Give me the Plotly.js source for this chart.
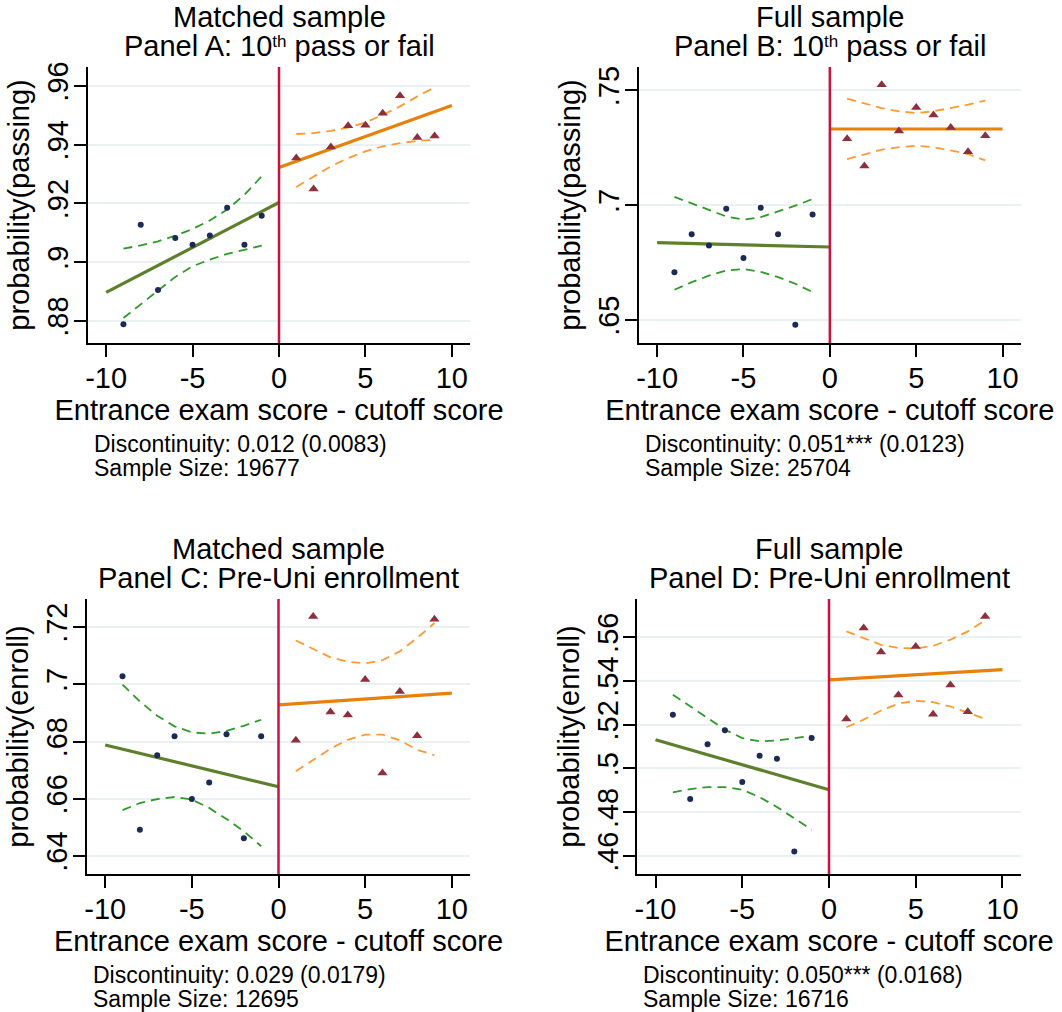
<!DOCTYPE html>
<html>
<head>
<meta charset="utf-8">
<script src="https://cdn.plot.ly/plotly-3.0.1.min.js"></script>
<style>html,body{margin:0;padding:0;background:#fff;}#chart{width:1062px;height:1012px;}</style>
</head>
<body>
<div id="chart"></div>
<script>
// ---- data ----
const xLeft = [-9, -8, -7, -6, -5, -4, -3, -2, -1];
const xRight = [1, 2, 3, 4, 5, 6, 7, 8, 9];
const fitXLeft = [-10, 0];
const fitXRight = [0, 10];
const xTickVals = [-10, -5, 0, 5, 10];
const xTickText = ['-10', '-5', '0', '5', '10'];

// Panel A: matched, 10th pass or fail
const aBinL = [0.8789, 0.9127, 0.8905, 0.9082, 0.9059, 0.9091, 0.9185, 0.9059, 0.9158];
const aBinR = [0.9354, 0.9249, 0.9392, 0.9464, 0.9466, 0.9507, 0.9566, 0.9424, 0.9429];
const aFitL = [0.8897, 0.9203];
const aFitR = [0.9322, 0.9533];
const aCiLoL = [0.8810, 0.8856, 0.8903, 0.8950, 0.8986, 0.9009, 0.9028, 0.9043, 0.9056];
const aCiHiL = [0.9046, 0.9057, 0.9071, 0.9090, 0.9113, 0.9142, 0.9179, 0.9229, 0.9292];
const aCiLoR = [0.9256, 0.9292, 0.9326, 0.9354, 0.9377, 0.9394, 0.9405, 0.9413, 0.9416];
const aCiHiR = [0.9436, 0.9439, 0.9447, 0.9458, 0.9475, 0.9501, 0.9530, 0.9564, 0.9595];
const aTicks = [0.88, 0.90, 0.92, 0.94, 0.96];
const aTickText = ['.88', '.9', '.92', '.94', '.96'];

// Panel B: full, 10th pass or fail
const bBinL = [0.6708, 0.6874, 0.6825, 0.6985, 0.6770, 0.6989, 0.6874, 0.6480, 0.6960];
const bBinR = [0.7290, 0.7171, 0.7525, 0.7323, 0.7426, 0.7393, 0.7339, 0.7233, 0.7303];
const bFitL = [0.6837, 0.6818];
const bFitR = [0.7332, 0.7332];
const bCiLoL = [0.6632, 0.6665, 0.6693, 0.6716, 0.6722, 0.6710, 0.6687, 0.6658, 0.6622];
const bCiHiL = [0.7036, 0.7009, 0.6980, 0.6951, 0.6937, 0.6948, 0.6973, 0.6998, 0.7027];
const bCiLoR = [0.7201, 0.7223, 0.7242, 0.7253, 0.7259, 0.7253, 0.7239, 0.7223, 0.7195];
const bCiHiR = [0.7464, 0.7445, 0.7423, 0.7409, 0.7401, 0.7409, 0.7423, 0.7438, 0.7456];
const bTicks = [0.65, 0.70, 0.75];
const bTickText = ['.65', '.7', '.75'];

// Panel C: matched, Pre-Uni enrollment
const cBinL = [0.7028, 0.6492, 0.6752, 0.6818, 0.6599, 0.6657, 0.6825, 0.6462, 0.6818];
const cBinR = [0.6804, 0.7237, 0.6903, 0.6893, 0.7017, 0.6690, 0.6975, 0.6820, 0.7227];
const cFitL = [0.6788, 0.6642];
const cFitR = [0.6928, 0.6969];
const cCiLoL = [0.6560, 0.6585, 0.6599, 0.6606, 0.6597, 0.6568, 0.6529, 0.6486, 0.6434];
const cCiHiL = [0.6999, 0.6940, 0.6890, 0.6853, 0.6832, 0.6827, 0.6837, 0.6855, 0.6876];
const cCiLoR = [0.6696, 0.6734, 0.6775, 0.6806, 0.6824, 0.6824, 0.6804, 0.6771, 0.6752];
const cCiHiR = [0.7153, 0.7123, 0.7094, 0.7079, 0.7073, 0.7084, 0.7115, 0.7162, 0.7214];
const cTicks = [0.64, 0.66, 0.68, 0.70, 0.72];
const cTickText = ['.64', '.66', '.68', '.7', '.72'];

// Panel D: full, Pre-Uni enrollment
const dBinL = [0.5245, 0.4860, 0.5111, 0.5174, 0.4938, 0.5058, 0.5044, 0.4621, 0.5139];
const dBinR = [0.5226, 0.5641, 0.5532, 0.5335, 0.5557, 0.5248, 0.5381, 0.5259, 0.5694];
const dFitL = [0.5131, 0.4903];
const dFitR = [0.5405, 0.5451];
const dCiLoL = [0.4891, 0.4906, 0.4915, 0.4915, 0.4903, 0.4869, 0.4824, 0.4774, 0.4720];
const dCiHiL = [0.5337, 0.5283, 0.5230, 0.5177, 0.5139, 0.5124, 0.5128, 0.5139, 0.5149];
const dCiLoR = [0.5188, 0.5223, 0.5265, 0.5296, 0.5309, 0.5303, 0.5283, 0.5256, 0.5227];
const dCiHiR = [0.5626, 0.5595, 0.5565, 0.5550, 0.5548, 0.5560, 0.5588, 0.5626, 0.5676];
const dTicks = [0.46, 0.48, 0.50, 0.52, 0.54, 0.56];
const dTickText = ['.46', '.48', '.5', '.52', '.54', '.56'];

const SUP = '<span style="font-size:17px;baseline-shift:9px">th</span>';
const titleTop = ['Matched sample', 'Full sample', 'Matched sample', 'Full sample'];
const titleSub = ['Panel A: 10' + SUP + ' pass or fail', 'Panel B: 10' + SUP + ' pass or fail',
                  'Panel C: Pre-Uni enrollment', 'Panel D: Pre-Uni enrollment'];
const yTitles = ['probability(passing)', 'probability(passing)', 'probability(enroll)', 'probability(enroll)'];
const xTitle = 'Entrance exam score - cutoff score';
const notesDisc = ['Discontinuity: 0.012 (0.0083)', 'Discontinuity: 0.051*** (0.0123)',
                   'Discontinuity: 0.029 (0.0179)', 'Discontinuity: 0.050*** (0.0168)'];
const notesSize = ['Sample Size: 19677', 'Sample Size: 25704', 'Sample Size: 12695', 'Sample Size: 16716'];

// ---- styling / layout ----
const W = 1062, H = 1012;
const FONT = 'Liberation Sans, Arial, Helvetica, sans-serif';
const BIG = 29;
const px = v => v / W;
const py = v => (H - v) / H;

const panels = [
  {bl: aBinL, br: aBinR, fl: aFitL, fr: aFitR, lol: aCiLoL, hil: aCiHiL, lor: aCiLoR, hir: aCiHiR,
   tv: aTicks, tt: aTickText, yr: [0.8725, 0.9664], box: [88, 470, 67, 343]},
  {bl: bBinL, br: bBinR, fl: bFitL, fr: bFitR, lol: bCiLoL, hil: bCiHiL, lor: bCiLoR, hir: bCiHiR,
   tv: bTicks, tt: bTickText, yr: [0.6400, 0.7602], box: [639, 1020.7, 67, 343]},
  {bl: cBinL, br: cBinR, fl: cFitL, fr: cFitR, lol: cCiLoL, hil: cCiHiL, lor: cCiLoR, hir: cCiHiR,
   tv: cTicks, tt: cTickText, yr: [0.6337, 0.7298], box: [87, 470, 599, 874]},
  {bl: dBinL, br: dBinR, fl: dFitL, fr: dFitR, lol: dCiLoL, hil: dCiHiL, lor: dCiLoR, hir: dCiHiR,
   tv: dTicks, tt: dTickText, yr: [0.4518, 0.5774], box: [637.3, 1020.7, 599, 874]}
];

const cGreenFit = '#5e7f2c', cGreenCi = '#2f9a2a', cOrangeFit = '#e8800c', cOrangeCi = '#ff9a33';
const cNavy = '#1c2b55', cMaroon = '#8e2f3c', cRed = '#cc1040';

const traces = [];
const layout = {
  width: W, height: H, margin: {l: 0, r: 0, t: 0, b: 0},
  paper_bgcolor: '#fff', plot_bgcolor: '#fff', showlegend: false,
  font: {family: FONT, size: BIG, color: '#000'},
  annotations: [], shapes: []
};

panels.forEach((p, i) => {
  const n = i + 1;
  const xa = 'x' + (n === 1 ? '' : n), ya = 'y' + (n === 1 ? '' : n);
  const xk = 'xaxis' + (n === 1 ? '' : n), yk = 'yaxis' + (n === 1 ? '' : n);
  const [x0, x1, y0, y1] = p.box;
  layout[xk] = {
    domain: [px(x0), px(x1)], anchor: ya, range: [-11.05, 11.05],
    tickvals: xTickVals, ticktext: xTickText, ticks: 'outside', ticklen: 12, tickwidth: 2,
    tickcolor: '#000', showline: true, linecolor: '#000', linewidth: 2, showgrid: false,
    zeroline: false, tickfont: {size: BIG, family: FONT}, ticklabelstandoff: -4,
    title: {text: xTitle, font: {size: BIG, family: FONT}, standoff: 3}
  };
  layout[yk] = {
    domain: [py(y1), py(y0)], anchor: xa, range: p.yr,
    tickvals: p.tv, ticktext: p.tt, ticks: 'outside', ticklen: 12, tickwidth: 2,
    tickcolor: '#000', showline: true, linecolor: '#000', linewidth: 2,
    showgrid: true, gridcolor: '#e9f1f2', gridwidth: 2, zeroline: false,
    tickangle: -90, tickfont: {size: BIG, family: FONT}, ticklabelstandoff: -6,
    title: {text: yTitles[i], font: {size: BIG, family: FONT}, standoff: 4}
  };
  const cx = (x0 + x1) / 2;
  layout.annotations.push({xref: 'paper', yref: 'paper', x: px(cx), y: py(y0 - 50), xanchor: 'center', yanchor: 'middle',
    text: titleTop[i], showarrow: false, font: {size: BIG, family: FONT}});
  layout.annotations.push({xref: 'paper', yref: 'paper', x: px(cx), y: py(y0 - 21), xanchor: 'center', yanchor: 'middle',
    text: titleSub[i], showarrow: false, font: {size: BIG, family: FONT}});
  layout.annotations.push({xref: 'paper', yref: 'paper', x: px(x0 + 4), y: py(y1 + 101), xanchor: 'left', yanchor: 'middle',
    align: 'left', text: notesDisc[i], showarrow: false, font: {size: 23, family: FONT}});
  layout.annotations.push({xref: 'paper', yref: 'paper', x: px(x0 + 4), y: py(y1 + 125), xanchor: 'left', yanchor: 'middle',
    align: 'left', text: notesSize[i], showarrow: false, font: {size: 23, family: FONT}});
  layout.shapes.push({type: 'line', xref: xa, yref: ya + ' domain', x0: 0, x1: 0, y0: 0, y1: 1,
    line: {color: cRed, width: 2.5}});

  const base = {xaxis: xa, yaxis: ya, hoverinfo: 'skip'};
  traces.push(Object.assign({x: xLeft, y: p.hil, mode: 'lines', line: {color: cGreenCi, width: 1.8, dash: '9px,6px'}}, base));
  traces.push(Object.assign({x: xLeft, y: p.lol, mode: 'lines', line: {color: cGreenCi, width: 1.8, dash: '9px,6px'}}, base));
  traces.push(Object.assign({x: xRight, y: p.hir, mode: 'lines', line: {color: cOrangeCi, width: 1.8, dash: '9px,6px'}}, base));
  traces.push(Object.assign({x: xRight, y: p.lor, mode: 'lines', line: {color: cOrangeCi, width: 1.8, dash: '9px,6px'}}, base));
  traces.push(Object.assign({x: fitXLeft, y: p.fl, mode: 'lines', line: {color: cGreenFit, width: 3.2}}, base));
  traces.push(Object.assign({x: fitXRight, y: p.fr, mode: 'lines', line: {color: cOrangeFit, width: 3.2}}, base));
  traces.push(Object.assign({x: xLeft, y: p.bl, mode: 'markers', marker: {symbol: 'circle', size: 6, color: cNavy}}, base));
  traces.push(Object.assign({x: xRight, y: p.br, mode: 'markers', marker: {symbol: 'triangle-up', size: 9, color: cMaroon}}, base));
});

Plotly.newPlot('chart', traces, layout, {staticPlot: true, displayModeBar: false});
</script>
</body>
</html>
